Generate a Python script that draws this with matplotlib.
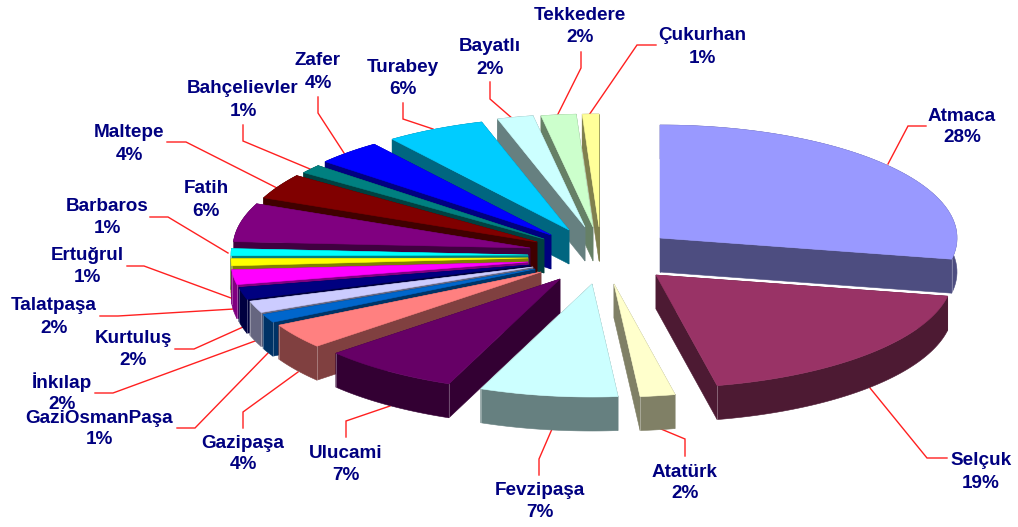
import numpy as np
import matplotlib
matplotlib.use('Agg')
import matplotlib.pyplot as plt
from matplotlib.patches import Polygon

# slices clockwise from 12 o'clock
names = ['Atmaca', 'Selçuk', 'Atatürk', 'Fevzipaşa', 'Ulucami', 'Gazipaşa', 'GaziOsmanPaşa',
         'İnkılap', 'Kurtuluş', 'Talatpaşa', 'Ertuğrul', 'Barbaros', 'Fatih', 'Maltepe',
         'Bahçelievler', 'Zafer', 'Turabey', 'Bayatlı', 'Tekkedere', 'Çukurhan']
values = [28.0, 18.7, 1.9, 7.5, 7.5, 3.6, 1.2, 1.7, 1.7, 2.1, 1.0, 1.0, 5.5, 3.6, 1.25, 3.6, 5.4, 1.95, 1.9, 0.9]
pct_labels = ['28%', '19%', '2%', '7%', '7%', '4%', '1%', '2%', '2%', '2%', '1%', '1%', '6%', '4%',
              '1%', '4%', '6%', '2%', '2%', '1%']

top_cols = ['#9999FF', '#993366', '#FFFFCC', '#CCFFFF', '#660066', '#FF8080', '#0066CC', '#CCCCFF',
            '#000080', '#FF00FF', '#FFFF00', '#00FFFF', '#800080', '#800000', '#008080', '#0000FF',
            '#00CCFF', '#CCFFFF', '#CCFFCC', '#FFFF99']
side_cols = ['#4D4D80', '#4D1A33', '#808066', '#668080', '#330033', '#804040', '#003366', '#666680',
             '#000040', '#800080', '#808000', '#008080', '#400040', '#400000', '#004040', '#000080',
             '#006680', '#668080', '#668066', '#80804D']

# layout, in image pixels
rx, ry, depth = 297, 113, 34
tips = [(660, 238), (656, 275), (614, 284), (592, 284), (560, 279), (541, 272), (535, 269), (533, 267),
        (530, 265), (528, 262), (528, 258), (528, 255), (530, 248), (537, 242), (544, 239), (551, 235),
        (569, 230), (585, 227), (593, 227), (599, 227)]
name_pos = [(962, 115), (981, 459), (685, 471), (540, 489), (346, 452), (243, 442), (99, 417), (62, 382),
            (133, 337), (54, 304), (87, 254), (107, 205), (206, 187), (129, 131), (243, 87), (318, 59),
            (403, 66), (490, 45), (580, 14), (702, 34)]
pct_y = [136, 482, 492, 511, 474, 463, 438, 403, 359, 327, 276, 227, 210, 154, 110, 82, 88, 68, 36, 57]
leaders = [[(926, 126), (908, 126), (888, 164)],
           [(870, 388), (927, 458), (947, 458)],
           [(661, 429), (685, 439), (685, 456)],
           [(552, 429), (539, 459), (539, 475)],
           [(390, 406), (346, 421), (346, 437)],
           [(298, 372), (243, 412), (243, 428)],
           [(268, 353), (195, 428), (177, 428)],
           [(255, 341), (113, 393), (95, 393)],
           [(243, 327), (194, 349), (175, 349)],
           [(234, 309), (118, 316), (100, 316)],
           [(231, 298), (144, 266), (127, 266)],
           [(228, 253), (168, 217), (150, 217)],
           None,
           [(277, 188), (186, 142), (167, 142)],
           [(310, 169), (243, 141), (243, 125)],
           [(344, 153), (318, 113), (318, 97)],
           [(433, 129), (403, 119), (403, 103)],
           [(513, 119), (490, 99), (490, 82)],
           [(557, 116), (581, 68), (581, 52)],
           [(589, 115), (637, 45), (656, 45)]]

fig = plt.figure(figsize=(10.18, 5.27), dpi=100)
ax = fig.add_axes([0, 0, 1, 1])
ax.set_xlim(0, 1018)
ax.set_ylim(527, 0)
ax.axis('off')

for seg in leaders:
    if seg:
        ax.plot(*zip(*seg), color='#FF2020', lw=1.0, zorder=1, solid_joinstyle='miter')

ends = np.cumsum(values) / np.sum(values) * 2 * np.pi
starts = np.r_[0, ends[:-1]]
mids = (starts + ends) / 2

# back slices first, the front ones paint over them
z = 2
for i in np.argsort(-np.cos(mids)):
    tx, ty = tips[i]
    t = np.linspace(starts[i], ends[i], 60)
    ax_x = tx + rx * np.sin(t)
    ax_y = ty - ry * np.cos(t)
    low = np.c_[ax_x, ax_y + depth]
    up = np.c_[ax_x, ax_y]
    tip = np.array([[tx, ty]])
    tip_low = np.array([[tx, ty + depth]])
    faces = [np.r_[tip, up[:1], low[:1], tip_low],
             np.r_[tip, up[-1:], low[-1:], tip_low],
             np.r_[up, low[::-1]]]
    for f in faces:
        ax.add_patch(Polygon(f, closed=True, fc=side_cols[i], ec=side_cols[i], lw=0.4, zorder=z))
    # light hairlines on the corners that face the viewer
    for k in (0, -1):
        if np.cos(t[k]) < 0.3:
            ax.plot([ax_x[k], ax_x[k]], [ax_y[k], ax_y[k] + depth], color='white', alpha=0.35, lw=0.6, zorder=z)
    ax.add_patch(Polygon(np.r_[tip, up], closed=True, fc=top_cols[i], ec=top_cols[i], lw=0.4, zorder=z))
    z += 1

for i, n in enumerate(names):
    kw = dict(ha='center', va='baseline', color='#000080', fontsize=13.6, fontweight='bold',
              family='Liberation Sans', zorder=100)
    ax.text(name_pos[i][0], name_pos[i][1] + 6, n, **kw)
    ax.text(name_pos[i][0], pct_y[i] + 6, pct_labels[i], **kw)

fig.savefig('out.png', dpi=100)
